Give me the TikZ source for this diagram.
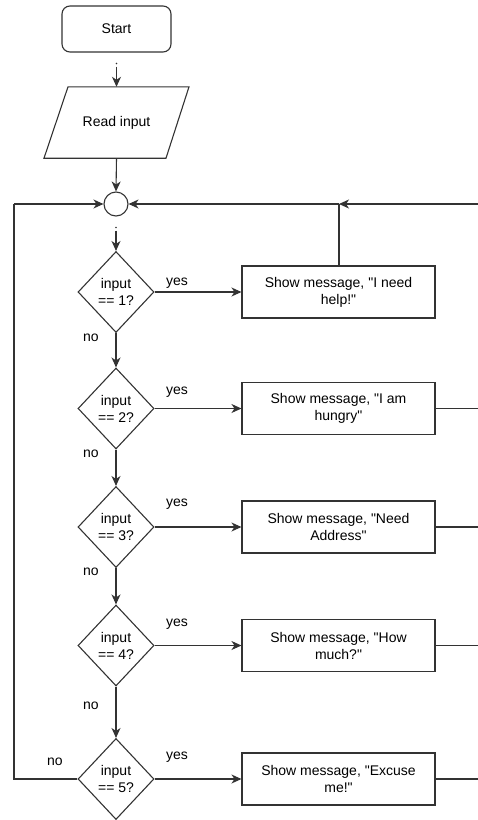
\documentclass[tikz,border=0pt]{standalone}
\usepackage{fontspec}
\setmainfont{Liberation Sans}[Ligatures=TeXOff]
\usetikzlibrary{shapes.geometric,arrows.meta}

\definecolor{edge}{HTML}{333333}

\tikzset{
  base/.style={draw=edge, line width=1.1pt, font=\fontsize{14}{17}\selectfont, align=center, inner sep=0pt},
  startbox/.style={base, rectangle, rounded corners=8pt, minimum width=109pt, minimum height=46pt},
  iobox/.style={rectangle, inner sep=0pt, font=\fontsize{14}{17}\selectfont, minimum width=122pt, minimum height=71pt},
  joint/.style={base, circle, minimum size=24pt},
  decision/.style={base, diamond, minimum width=76pt, minimum height=81pt},
  msgbox/.style={base, rectangle, minimum width=193pt, minimum height=52pt},
  lbl/.style={font=\fontsize{14}{17}\selectfont, inner sep=0pt},
  flow/.style={draw=edge, line width=1.1pt, -{Stealth[length=10pt,width=9pt,inset=3pt]}},
  wire/.style={draw=edge, line width=1.1pt},
}

\begin{document}
\begin{tikzpicture}[x=1pt,y=-1pt]
  \useasboundingbox (0,0) rectangle (478,820);

  % main column
  \node[startbox] (start) at (116.5,29) {Start};
  \node[iobox] (read) at (116.5,122.5) {Read input};
  \draw[edge, line width=1.1pt]
    ([xshift=-48.5pt]read.north) -- ([xshift=72.5pt]read.north)
    -- ([xshift=49.5pt]read.south) -- ([xshift=-72.5pt]read.south) -- cycle;
  \node[joint] (merge) at (116,204) {};

  \node[decision] (d1) at (116,292) {input\\== 1?};
  \node[decision] (d2) at (116,408.5) {input\\== 2?};
  \node[decision] (d3) at (116,527) {input\\== 3?};
  \node[decision] (d4) at (116,645.5) {input\\== 4?};
  \node[decision] (d5) at (116,779) {input\\== 5?};

  % message boxes
  \node[msgbox] (m1) at (338.5,292) {Show message, "I need\\help!"};
  \node[msgbox] (m2) at (338.5,408.5) {Show message, "I am\\hungry"};
  \node[msgbox] (m3) at (338.5,527) {Show message, "Need\\Address"};
  \node[msgbox] (m4) at (338.5,645.5) {Show message, "How\\much?"};
  \node[msgbox] (m5) at (338.5,779) {Show message, "Excuse\\me!"};

  % return points
  \coordinate (top) at (478,204);
  \coordinate (join) at (339,204);
  \coordinate (r2) at (478,408.5);
  \coordinate (r3) at (478,527);
  \coordinate (r4) at (478,645.5);
  \coordinate (r5) at (478,779);
  \coordinate (lb) at (14,779);
  \coordinate (lt) at (14,204);

  % vertical flow
  \draw[flow] ([yshift=-14pt]start.south) -- (read.north);
  \fill[edge] ([yshift=-11pt]start.south) circle (0.9pt);
  \draw[flow] (read.south) -- (merge.north);
  \draw[flow] ([yshift=-14pt]merge.south) -- (d1.north);
  \fill[edge] ([yshift=-11pt]merge.south) circle (0.9pt);
  \draw[flow] (d1.south) -- (d2.north);
  \draw[flow] (d2.south) -- (d3.north);
  \draw[flow] (d3.south) -- (d4.north);
  \draw[flow] (d4.south) -- (d5.north);

  % yes branches
  \draw[flow] (d1.east) -- (m1.west);
  \draw[flow] (d2.east) -- (m2.west);
  \draw[flow] (d3.east) -- (m3.west);
  \draw[flow] (d4.east) -- (m4.west);
  \draw[flow] (d5.east) -- (m5.west);

  % loops back to the merge point
  \draw[wire] (m1.north -| join) -- (join);
  \draw[flow] (join) -- (merge.east);
  \draw[flow] (top) -- (join);
  \draw[wire] (m2.east) -- (r2);
  \draw[wire] (m3.east) -- (r3);
  \draw[wire] (m4.east) -- (r4);
  \draw[wire] (m5.east) -- (r5);
  \draw[wire] (d5.west) -- (lb) -- (lt);
  \draw[flow] (lt) -- (merge.west);

  % branch labels
  \node[lbl] (y1) at (177,283) {yes};
  \node[lbl] (y2) at (177,392) {yes};
  \node[lbl] (y3) at (177,504) {yes};
  \node[lbl] (y4) at (177,624) {yes};
  \node[lbl] (y5) at (177,757) {yes};
  \node[lbl] (n1) at (91,338) {no};
  \node[lbl] (n2) at (91,454) {no};
  \node[lbl] (n3) at (91,572) {no};
  \node[lbl] (n4) at (91,706) {no};
  \node[lbl] (n5) at (55,762) {no};
\end{tikzpicture}
\end{document}
